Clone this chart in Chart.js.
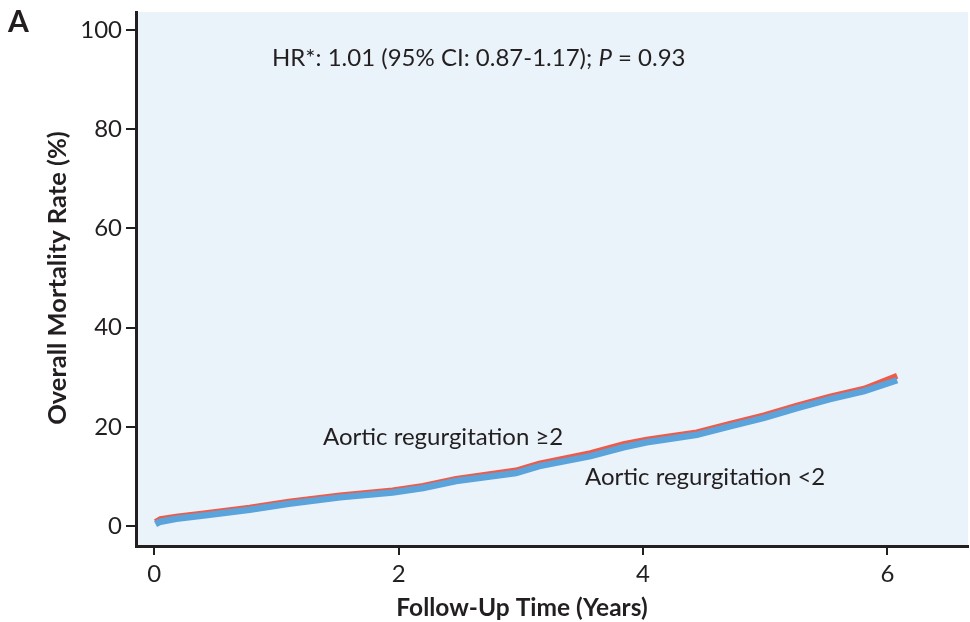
<!DOCTYPE html>
<html>
<head>
<meta charset="utf-8">
<script src="https://cdn.jsdelivr.net/npm/chart.js@4/dist/chart.umd.min.js"></script>
<style>
  html, body { margin: 0; padding: 0; background: #fff; }
  #wrap { width: 970px; height: 622px; position: relative; }
</style>
</head>
<body>
<div id="wrap"><canvas id="chart"></canvas></div>
<script>
// follow-up time (years) and cumulative mortality (%)
const years  = [0.01, 0.05, 0.18, 0.42, 0.78, 1.1, 1.52, 1.95, 2.2, 2.47, 2.96, 3.15, 3.57, 3.84, 4.03, 4.17, 4.44, 4.71, 4.99, 5.26, 5.53, 5.81, 6.08];
const arLow  = [0.4, 0.9, 1.5, 2.2, 3.3, 4.5, 5.8, 6.8, 7.7, 9.1, 10.7, 12.1, 14.1, 15.9, 16.9, 17.4, 18.4, 20.1, 21.8, 23.8, 25.6, 27.2, 29.4];
const arHigh = [0.8, 1.4, 1.9, 2.6, 3.7, 4.9, 6.2, 7.2, 8.1, 9.5, 11.2, 12.6, 14.7, 16.5, 17.4, 17.9, 18.9, 20.6, 22.3, 24.3, 26.1, 27.7, 30.3];

const xTicks = [0, 2, 4, 6];
const yTicks = [0, 20, 40, 60, 80, 100];

const seriesNames = ["Aortic regurgitation <2", "Aortic regurgitation \u22652"];
const hrText = "HR*: 1.01 (95% CI: 0.87-1.17); ";

const ink = "#231F20";
const blue = "#5BA3DB";
const red = "#EE5B49";
const panelBg = "#EAF2FA";
const fontName = "Lato, 'Noto Sans', sans-serif";

function toPoints(ys) {
  return years.map((t, i) => ({ x: t, y: ys[i] }));
}

// light blue panel behind the plot
const panelPlugin = {
  id: "panel",
  beforeDraw(chart) {
    const a = chart.chartArea;
    const ctx = chart.ctx;
    ctx.save();
    ctx.fillStyle = panelBg;
    ctx.fillRect(a.left, a.top, a.right - a.left, a.bottom - a.top);
    ctx.restore();
  }
};

// free text: panel letter, HR line, curve labels, axis titles
const textPlugin = {
  id: "texts",
  afterDraw(chart) {
    const ctx = chart.ctx;
    ctx.save();
    ctx.fillStyle = ink;
    ctx.textBaseline = "alphabetic";

    ctx.font = "bold 30px " + fontName;
    ctx.textAlign = "left";
    ctx.fillText("A", 8, 32);

    ctx.font = "24px " + fontName;
    ctx.fillText(hrText, 272, 66);
    let w = ctx.measureText(hrText).width;
    ctx.font = "italic 24px " + fontName;
    ctx.fillText("P", 272 + w, 66);
    w += ctx.measureText("P").width;
    ctx.font = "24px " + fontName;
    ctx.fillText(" = 0.93", 272 + w, 66);

    ctx.fillText(seriesNames[1], 323, 445);
    ctx.fillText(seriesNames[0], 585, 485);

    ctx.font = "bold 24.5px " + fontName;
    ctx.textAlign = "center";
    ctx.fillText("Follow-Up Time (Years)", 522, 616);

    ctx.font = "bold 25.5px " + fontName;
    ctx.translate(66, 278);
    ctx.rotate(-Math.PI / 2);
    ctx.fillText("Overall Mortality Rate (%)", 0, 0);
    ctx.restore();
  }
};

new Chart(document.getElementById("chart"), {
  type: "line",
  data: {
    datasets: [
      {
        label: seriesNames[0],
        data: toPoints(arLow),
        borderColor: blue,
        borderWidth: 6.5,
        pointRadius: 0,
        tension: 0,
        order: 0
      },
      {
        label: seriesNames[1],
        data: toPoints(arHigh),
        borderColor: red,
        borderWidth: 6,
        pointRadius: 0,
        tension: 0,
        order: 1
      }
    ]
  },
  options: {
    responsive: true,
    maintainAspectRatio: false,
    animation: false,
    layout: { padding: { top: 12, right: 2, left: 0, bottom: 0 } },
    plugins: {
      legend: { display: false },
      tooltip: { enabled: false }
    },
    scales: {
      x: {
        type: "linear",
        min: -0.15,
        max: 6.66,
        afterFit(s) { s.height = 76; s.paddingLeft = 0; s.paddingRight = 0; },
        afterBuildTicks(s) { s.ticks = xTicks.map(v => ({ value: v })); },
        border: { display: true, color: ink, width: 3 },
        grid: { drawOnChartArea: false, drawTicks: true, tickLength: 9, color: ink, lineWidth: 2 },
        ticks: { color: ink, padding: 5, font: { family: fontName, size: 24 } }
      },
      y: {
        min: -4,
        max: 103.6,
        afterFit(s) { s.width = 136; s.paddingTop = 0; s.paddingBottom = 0; },
        afterBuildTicks(s) { s.ticks = yTicks.map(v => ({ value: v })); },
        border: { display: true, color: ink, width: 3 },
        grid: { drawOnChartArea: false, drawTicks: true, tickLength: 10, color: ink, lineWidth: 2 },
        ticks: { color: ink, padding: 4, font: { family: fontName, size: 24 } }
      }
    }
  },
  plugins: [panelPlugin, textPlugin]
});
</script>
</body>
</html>
